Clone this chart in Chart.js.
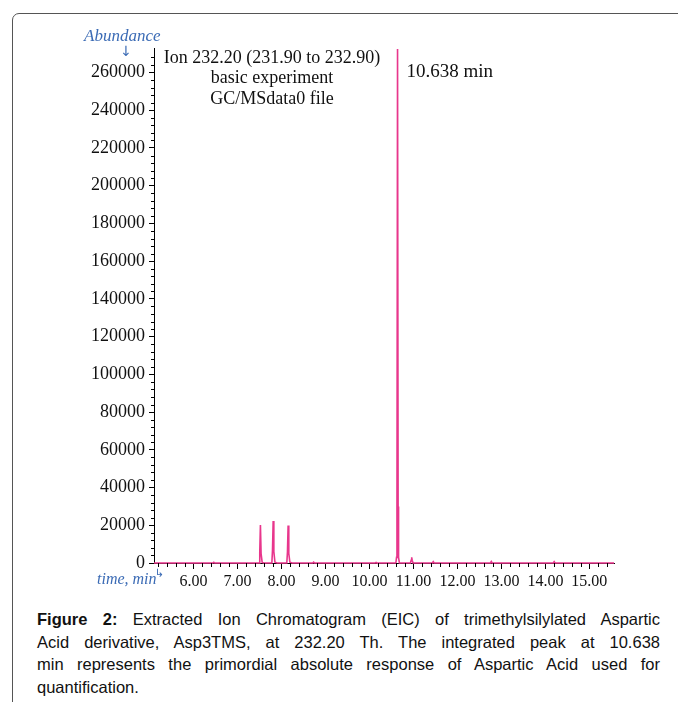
<!DOCTYPE html>
<html>
<head>
<meta charset="utf-8">
<script src="https://cdn.jsdelivr.net/npm/chart.js@4.4.1/dist/chart.umd.min.js"></script>
<style>
  html, body { margin: 0; padding: 0; background: #fff; }
  body { width: 678px; height: 702px; position: relative; overflow: hidden; }
  #frame {
    position: absolute; left: 12px; top: 13px; width: 720px; height: 740px;
    border: 1.5px solid #555; border-radius: 7px; box-sizing: border-box;
  }
  #plot { position: absolute; left: 0; top: 0; width: 678px; height: 600px; }
  #caption {
    position: absolute; left: 37px; top: 608px; width: 623px;
    font-family: "Liberation Sans", Arial, sans-serif; font-size: 16.5px;
    line-height: 22.7px; color: #111;
  }
  #caption div { text-align: justify; text-align-last: justify; white-space: nowrap; }
  #caption div:last-child { text-align-last: left; }
</style>
</head>
<body>
<div id="frame"></div>
<div id="plot"><canvas id="eic"></canvas></div>
<div id="caption">
  <div><b>Figure 2:</b> Extracted Ion Chromatogram (EIC) of trimethylsilylated Aspartic</div>
  <div>Acid derivative, Asp3TMS, at 232.20 Th. The integrated peak at 10.638</div>
  <div>min represents the primordial absolute response of Aspartic Acid used for</div>
  <div>quantification.</div>
</div>
<script>
// --- DATA ---
// retention time, min
const timeMin = [
    5.10, 6.44, 6.46, 6.48,
    7.49, 7.505, 7.52, 7.535, 7.56, 7.60,
    7.78, 7.795, 7.81, 7.825, 7.85, 7.90,
    8.12, 8.135, 8.15, 8.165, 8.19, 8.24,
    8.71, 8.73, 8.75,
    10.13, 10.15, 10.17,
    10.60, 10.615, 10.625, 10.638, 10.651, 10.661, 10.68,
    10.93, 10.95, 10.96, 10.97, 10.99,
    11.43, 11.45, 11.47,
    12.75, 12.77, 12.79,
    14.18, 14.20, 14.22,
    15.56
];
// abundance (counts)
const abundance = [
    0, 0, 400, 0,
    0, 6000, 20100, 5000, 300, 0,
    0, 7000, 22200, 6000, 400, 0,
    0, 6000, 19900, 5000, 400, 0,
    0, 500, 0,
    0, 250, 0,
    0, 3000, 30000, 272500, 30000, 3000, 0,
    0, 1500, 3000, 1500, 0,
    0, 700, 0,
    0, 800, 0,
    0, 700, 0,
    0
];

const xTicks = [6, 7, 8, 9, 10, 11, 12, 13, 14, 15];
const xTickLabels = ['6.00', '7.00', '8.00', '9.00', '10.00', '11.00', '12.00', '13.00', '14.00', '15.00'];
const yTicks = [0, 20000, 40000, 60000, 80000, 100000, 120000, 140000, 160000, 180000, 200000, 220000, 240000, 260000];

const peakTime = 10.638;
const infoLines = ['Ion 232.20 (231.90 to 232.90)', 'basic experiment', 'GC/MSdata0 file'];

const TRACE = '#e8368c';
const BLUE = '#3b6bb5';
const SERIF = '"Liberation Serif", "Times New Roman", serif';

// minor tick marks + the text that sits on the plot
const decorations = {
    id: 'decorations',
    afterDraw(chart) {
        const { ctx, chartArea, scales } = chart;
        const xs = scales.x, ys = scales.y;
        ctx.save();
        ctx.strokeStyle = '#000';
        ctx.lineWidth = 1;
        ctx.beginPath();
        for (let t = 5.2; t < 15.55; t += 0.2) {
            if (Math.abs(t - Math.round(t)) < 0.01) continue;
            const px = Math.round(xs.getPixelForValue(t)) + 0.5;
            ctx.moveTo(px, chartArea.bottom);
            ctx.lineTo(px, chartArea.bottom + 4);
        }
        for (let v = 4000; v < 272000; v += 4000) {
            if (v % 20000 === 0) continue;
            const py = Math.round(ys.getPixelForValue(v)) + 0.5;
            ctx.moveTo(chartArea.left - 3, py);
            ctx.lineTo(chartArea.left, py);
        }
        ctx.stroke();

        ctx.fillStyle = '#111';
        ctx.textBaseline = 'middle';
        ctx.textAlign = 'center';
        ctx.font = '18px ' + SERIF;
        infoLines.forEach((s, i) => ctx.fillText(s, 272, 58 + i * 20.5));

        ctx.textAlign = 'left';
        ctx.font = '19px ' + SERIF;
        ctx.fillText(peakTime.toFixed(3) + ' min', xs.getPixelForValue(peakTime) + 9, 72);

        ctx.fillStyle = BLUE;
        ctx.font = 'italic 17px ' + SERIF;
        ctx.fillText('Abundance', 84, 37);
        ctx.font = 'italic 16px ' + SERIF;
        ctx.fillText('time, min', 97, 580);
        ctx.font = '11px "DejaVu Sans", sans-serif';
        ctx.fillText('\u21b3', 155, 574);
        ctx.textAlign = 'center';
        ctx.font = '14px "DejaVu Sans", sans-serif';
        ctx.fillText('\u2193', 126, 52);
        ctx.restore();
    }
};

new Chart(document.getElementById('eic'), {
    type: 'line',
    data: {
        datasets: [{
            data: timeMin.map((t, i) => ({ x: t, y: abundance[i] })),
            borderColor: TRACE,
            borderWidth: 1.6,
            pointRadius: 0,
            tension: 0,
            clip: 3,
        }],
    },
    options: {
        responsive: true,
        maintainAspectRatio: false,
        animation: false,
        layout: { padding: { top: 48, right: 64, left: 0, bottom: 0 } },
        plugins: { legend: { display: false }, tooltip: { enabled: false } },
        scales: {
            x: {
                type: 'linear',
                min: 5.10,
                max: 15.56,
                afterBuildTicks: axis => { axis.ticks = xTicks.map(v => ({ value: v })); },
                afterFit: scale => { scale.height = 37; },
                ticks: {
                    callback: (v, i) => xTickLabels[i],
                    color: '#111',
                    padding: 3,
                    maxRotation: 0,
                    font: { family: SERIF, size: 16 },
                },
                grid: { drawOnChartArea: false, tickLength: 6, color: '#000' },
                border: { color: '#000', width: 1 },
            },
            y: {
                min: 0,
                max: 273000,
                afterBuildTicks: axis => { axis.ticks = yTicks.map(v => ({ value: v })); },
                afterFit: scale => { scale.width = 154; },
                ticks: {
                    callback: v => String(v),
                    color: '#111',
                    padding: 4,
                    font: { family: SERIF, size: 18 },
                },
                grid: { drawOnChartArea: false, tickLength: 5, color: '#000' },
                border: { color: '#000', width: 1 },
            },
        },
    },
    plugins: [decorations],
});
</script>
</body>
</html>
